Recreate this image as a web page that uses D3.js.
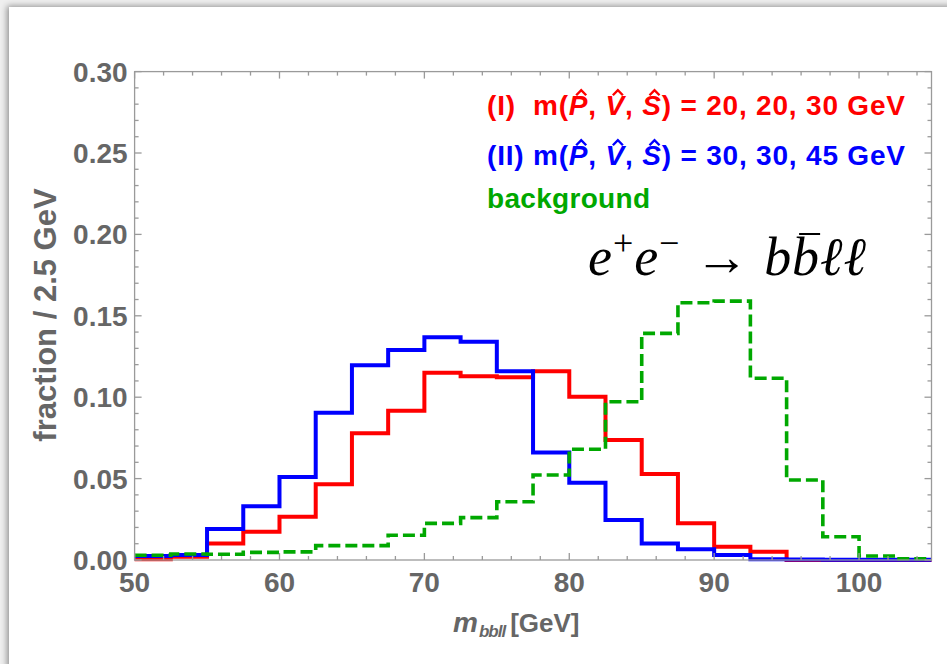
<!DOCTYPE html>
<html>
<head>
<meta charset="utf-8">
<script src="https://cdn.jsdelivr.net/npm/d3@7/dist/d3.min.js"></script>
<style>
  html, body { margin: 0; padding: 0; background: #fff; }
  svg { display: block; }
</style>
</head>
<body>
<svg id="chart" width="947" height="664"></svg>
<script>
// Lower edges of the 2.5 GeV bins of m_bbll
const binLow = [50, 52.5, 55, 57.5, 60, 62.5, 65, 67.5, 70, 72.5, 75, 77.5,
                80, 82.5, 85, 87.5, 90, 92.5, 95, 97.5, 100, 102.5];
const binWidth = 2.5;

// (I) m(P, V, S) = 20, 20, 30 GeV
const signalI = [0.0005, 0.002, 0.0102, 0.0174, 0.0266, 0.0465, 0.0778, 0.0917,
                 0.115, 0.1128, 0.1122, 0.116, 0.1003, 0.0737, 0.0528, 0.0225,
                 0.0082, 0.0051, 0, 0, 0, 0];
// (II) m(P, V, S) = 30, 30, 45 GeV
const signalII = [0.0025, 0.003, 0.019, 0.033, 0.051, 0.0905, 0.1196, 0.129,
                  0.1368, 0.134, 0.116, 0.066, 0.0475, 0.0246, 0.0102, 0.0066,
                  0.003, 0.0005, 0.0003, 0.0002, 0.0001, 0.0001];
// e+e- -> b bbar l l background
const background = [0.0029, 0.0037, 0.0035, 0.0047, 0.005, 0.0088, 0.0088, 0.0152,
                    0.0225, 0.026, 0.0358, 0.0522, 0.068, 0.0972, 0.1392, 0.158,
                    0.159, 0.1116, 0.0491, 0.0143, 0.0025, 0.0008];

const xMajor = [50, 60, 70, 80, 90, 100];
const yMajor = [0, 0.05, 0.10, 0.15, 0.20, 0.25, 0.30];

const W = 947, H = 664;
const svg = d3.select("#chart");

// panel with a soft shadow along its top and left edges
const defs = svg.append("defs");
const f = defs.append("filter").attr("id", "shadow")
  .attr("x", "-5%").attr("y", "-5%").attr("width", "110%").attr("height", "110%");
f.append("feGaussianBlur").attr("in", "SourceAlpha").attr("stdDeviation", 3).attr("result", "b");
f.append("feOffset").attr("in", "b").attr("dx", -2).attr("dy", -1).attr("result", "o");
f.append("feComponentTransfer").attr("in", "o").attr("result", "s")
  .append("feFuncA").attr("type", "linear").attr("slope", 0.4);
const m = f.append("feMerge");
m.append("feMergeNode").attr("in", "s");
m.append("feMergeNode").attr("in", "SourceGraphic");

svg.append("rect").attr("x", 0).attr("y", 0).attr("width", W).attr("height", H).attr("fill", "#efefef");
svg.append("rect").attr("x", 9).attr("y", 7).attr("width", W).attr("height", H)
  .attr("fill", "#fff").attr("filter", "url(#shadow)");

const x = d3.scaleLinear().domain([50, 105]).range([134.6, 931.5]);
const y = d3.scaleLinear().domain([0, 0.30]).range([560, 71.6]);

const frameColor = "#9a9a9a";
const labelColor = "#666";
const font = "'Liberation Sans', Arial, sans-serif";

// histogram outlines
const step = d3.line().x(d => x(d[0])).y(d => y(d[1])).curve(d3.curveStepAfter);
function pts(vals) {
  const p = binLow.map((lo, i) => [lo, vals[i]]);
  p.push([binLow[binLow.length - 1] + binWidth, vals[vals.length - 1]]);
  return p;
}
const series = [
  { vals: signalI, color: "#ff0000", dash: null, w: 4 },
  { vals: signalII, color: "#0000ff", dash: null, w: 4 },
  { vals: background, color: "#00a800", dash: "12,5", w: 3.6 }
];
const gPlot = svg.append("g");
series.forEach(s => {
  gPlot.append("path").attr("d", step(pts(s.vals)))
    .attr("fill", "none").attr("stroke", s.color).attr("stroke-width", s.w)
    .attr("stroke-dasharray", s.dash).attr("stroke-linejoin", "miter");
});

// frame with inward ticks on all four sides
const gF = svg.append("g").attr("stroke", frameColor).attr("stroke-width", 1.3).attr("fill", "none");
gF.append("rect").attr("x", x(50)).attr("y", y(0.30))
  .attr("width", x(105) - x(50)).attr("height", y(0) - y(0.30));
const xMinor = d3.range(52, 105, 2).filter(v => v % 10 !== 0);
const yMinor = d3.range(1, 30).filter(v => v % 5 !== 0).map(v => v / 100);
xMajor.forEach(v => {
  gF.append("line").attr("x1", x(v)).attr("x2", x(v)).attr("y1", y(0)).attr("y2", y(0) - 7);
  gF.append("line").attr("x1", x(v)).attr("x2", x(v)).attr("y1", y(0.30)).attr("y2", y(0.30) + 7);
});
xMinor.forEach(v => {
  gF.append("line").attr("x1", x(v)).attr("x2", x(v)).attr("y1", y(0)).attr("y2", y(0) - 4);
  gF.append("line").attr("x1", x(v)).attr("x2", x(v)).attr("y1", y(0.30)).attr("y2", y(0.30) + 4);
});
yMajor.forEach(v => {
  gF.append("line").attr("x1", x(50)).attr("x2", x(50) + 7).attr("y1", y(v)).attr("y2", y(v));
  gF.append("line").attr("x1", x(105)).attr("x2", x(105) - 7).attr("y1", y(v)).attr("y2", y(v));
});
yMinor.forEach(v => {
  gF.append("line").attr("x1", x(50)).attr("x2", x(50) + 4).attr("y1", y(v)).attr("y2", y(v));
  gF.append("line").attr("x1", x(105)).attr("x2", x(105) - 4).attr("y1", y(v)).attr("y2", y(v));
});

// tick labels
const gL = svg.append("g").attr("font-family", font).attr("font-weight", "bold")
  .attr("font-size", 28).attr("fill", labelColor);
yMajor.forEach(v => {
  gL.append("text").attr("x", x(50) - 7).attr("y", y(v)).attr("dy", "0.36em")
    .attr("text-anchor", "end").text(d3.format(".2f")(v));
});
xMajor.forEach(v => {
  gL.append("text").attr("x", x(v)).attr("y", 592)
    .attr("text-anchor", "middle").text(v);
});

// axis titles
svg.append("text").attr("transform", "translate(56,315) rotate(-90)")
  .attr("text-anchor", "middle").attr("font-family", font).attr("font-weight", "bold")
  .attr("font-size", 31).attr("fill", labelColor).text("fraction / 2.5 GeV");

const xt = svg.append("text").attr("x", 453).attr("y", 632)
  .attr("font-family", font).attr("font-weight", "bold").attr("font-size", 28).attr("fill", labelColor);
xt.append("tspan").attr("font-style", "italic").text("m");
xt.append("tspan").attr("font-style", "italic").attr("font-size", 17).attr("dx", 1).attr("dy", 5)
  .attr("letter-spacing", -1).text("bbll");
xt.append("tspan").attr("font-size", 26).attr("dx", 5).attr("dy", -5).text("[GeV]");

// legend lines
const legend = [
  { label: "(I)", vals: "20, 20, 30", color: "#ff0000", base: 115 },
  { label: "(II)", vals: "30, 30, 45", color: "#0000ff", base: 165 }
];
const hats = [];
legend.forEach((d, i) => {
  const t = svg.append("text").attr("x", 487).attr("y", d.base)
    .attr("font-family", font).attr("font-weight", "bold").attr("font-size", 28)
    .attr("fill", d.color).attr("textLength", 418).attr("lengthAdjust", "spacing");
  t.append("tspan").text(d.label + (i === 0 ? "\u00a0\u00a0" : " ") + "m(");
  t.append("tspan").attr("font-style", "italic").text("P");
  t.append("tspan").text(", ");
  t.append("tspan").attr("font-style", "italic").text("V");
  t.append("tspan").text(", ");
  t.append("tspan").attr("font-style", "italic").text("S");
  t.append("tspan").text(") = " + d.vals + " GeV");
  hats.push({ node: t.node(), color: d.color });
});
svg.append("text").attr("x", 487).attr("y", 208)
  .attr("font-family", font).attr("font-weight", "bold").attr("font-size", 28)
  .attr("fill", "#00a800").attr("textLength", 163).attr("lengthAdjust", "spacing")
  .text("background");

// circumflex accents over the italic P, V, S
hats.forEach(h => {
  const txt = h.node.textContent;
  ["P", "V", "S"].forEach(ch => {
    const idx = txt.indexOf(ch);
    const e = h.node.getExtentOfChar(idx);
    const cx = e.x + e.width / 2 + 3;
    const top = e.y + e.height * 0.17;
    svg.append("path")
      .attr("d", `M${cx - 5},${top} L${cx},${top - 5} L${cx + 5},${top}`)
      .attr("fill", "none").attr("stroke", h.color).attr("stroke-width", 2.4);
  });
});

// process label
const serif = "'Liberation Serif', 'Times New Roman', serif";
const pr = svg.append("text").attr("x", 588).attr("y", 275)
  .attr("font-family", serif).attr("font-size", 54).attr("fill", "#000")
  .attr("textLength", 278).attr("lengthAdjust", "spacing");
pr.append("tspan").attr("font-style", "italic").text("e");
pr.append("tspan").attr("font-size", 36).attr("dy", -20).text("+");
pr.append("tspan").attr("font-style", "italic").attr("dy", 20).text("e");
pr.append("tspan").attr("font-size", 36).attr("dy", -20).text("\u2212");
pr.append("tspan").attr("dy", 20).text(" \u2192 ");
pr.append("tspan").attr("font-style", "italic").text("b");
pr.append("tspan").attr("font-style", "italic").text("b");
pr.append("tspan").attr("font-style", "italic").text("\u2113\u2113");
{
  const txt = pr.node().textContent;
  const e = pr.node().getExtentOfChar(txt.lastIndexOf("b"));
  svg.append("line").attr("x1", e.x + 7).attr("x2", e.x + e.width + 1)
    .attr("y1", 234).attr("y2", 234).attr("stroke", "#000").attr("stroke-width", 2);
}
</script>
</body>
</html>
